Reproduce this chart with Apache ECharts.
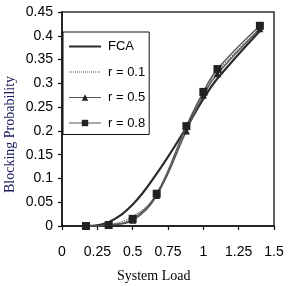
<!DOCTYPE html>
<html><head><meta charset="utf-8">
<script src="https://cdn.jsdelivr.net/npm/echarts@6/dist/echarts.min.js"></script>
<style>html,body{margin:0;padding:0;background:#fff}#c{width:302px;height:286px}</style>
</head><body><div id="c"></div>
<script>
var loads = [0.17, 0.33, 0.5, 0.67, 0.88, 1.0, 1.1, 1.4];
var fca = [0, 0.008, 0.045, 0.11, 0.207, 0.267, 0.31, 0.41];
var r01 = [0, 0.003, 0.02, 0.066, 0.205, 0.279, 0.325, 0.415];
var r05 = [0, 0.002, 0.012, 0.064, 0.2, 0.275, 0.32, 0.415];
var r08 = [0, 0.002, 0.015, 0.068, 0.21, 0.282, 0.33, 0.421];
var xTicks = [0, 0.25, 0.5, 0.75, 1, 1.25, 1.5];
var yTicks = [0, 0.05, 0.1, 0.15, 0.2, 0.25, 0.3, 0.35, 0.4, 0.45];

function pairs(v){ return loads.map(function(x,i){ return [x, v[i]]; }); }
var chart = echarts.init(document.getElementById('c'), null, {renderer:'canvas'});
var dark = '#333';
var hideSym = {opacity: 0};
chart.setOption({
  animation: false,
  backgroundColor: '#fff',
  grid: {left: 62, right: 28, top: 12, bottom: 60, show: true, borderColor: dark, borderWidth: 1.5, backgroundColor: 'transparent'},
  xAxis: {type: 'value', min: xTicks[0], max: xTicks[xTicks.length-1], interval: 0.25,
    axisLine: {show: true, onZero: false, lineStyle: {color: '#111', width: 1.5}},
    axisTick: {show: true, length: 4, lineStyle: {color: '#111', width: 1.2}},
    splitLine: {show: false},
    axisLabel: {margin: 19, color: '#000', fontFamily: 'Liberation Sans, Arial', fontSize: 14}},
  yAxis: {type: 'value', min: yTicks[0], max: yTicks[yTicks.length-1], interval: 0.05,
    axisLine: {show: true, lineStyle: {color: '#111', width: 1.5}},
    axisTick: {show: true, length: 4, lineStyle: {color: '#111', width: 1.2}},
    splitLine: {show: false},
    axisLabel: {margin: 9, color: '#000', fontFamily: 'Liberation Sans, Arial', fontSize: 14}},
  legend: {orient: 'vertical', left: 63, top: 32, width: 80, padding: [8, 4, 5, 5],
    backgroundColor: '#fff', borderColor: '#111', borderWidth: 1, itemGap: 12.5,
    itemWidth: 32, itemHeight: 8,
    textStyle: {fontFamily: 'Liberation Sans, Arial', fontSize: 13, color: '#000', padding: [0, 0, 0, 2]},
    data: [
      {name: 'FCA', itemStyle: hideSym, lineStyle: {width: 2}},
      {name: 'r = 0.1', itemStyle: hideSym, lineStyle: {width: 1}},
      {name: 'r = 0.5', lineStyle: {width: 1}},
      {name: 'r = 0.8', lineStyle: {width: 1}}
    ]},
  graphic: [
    {type: 'text', x: 3, y: 193, rotation: Math.PI/2, style: {text: 'Blocking Probability', fill: '#1a1a5e', font: '14px "Liberation Serif", "Times New Roman", serif'}},
    {type: 'text', x: 117, y: 269, style: {text: 'System Load', fill: '#000', font: '14px "Liberation Serif", "Times New Roman", serif'}}
  ],
  series: [
    {name: 'FCA', type: 'line', smooth: 0.4, symbol: 'none', data: pairs(fca), z: 3,
     lineStyle: {color: '#2a2a2a', width: 2.2}, itemStyle: {color: '#2a2a2a'}},
    {name: 'r = 0.1', type: 'line', smooth: 0.4, symbol: 'none', data: pairs(r01), z: 2,
     lineStyle: {color: '#555', width: 1.2, type: 'dotted'}, itemStyle: {color: '#555'}},
    {name: 'r = 0.5', type: 'line', smooth: 0.4, symbol: 'triangle', symbolSize: 7, showSymbol: true, data: pairs(r05), z: 4,
     lineStyle: {color: '#555', width: 1.4}, itemStyle: {color: '#222'}},
    {name: 'r = 0.8', type: 'line', smooth: 0.4, symbol: 'rect', symbolSize: 8, showSymbol: true, data: pairs(r08), z: 5,
     lineStyle: {color: '#555', width: 1.4}, itemStyle: {color: '#222'}}
  ]
});
</script></body></html>
